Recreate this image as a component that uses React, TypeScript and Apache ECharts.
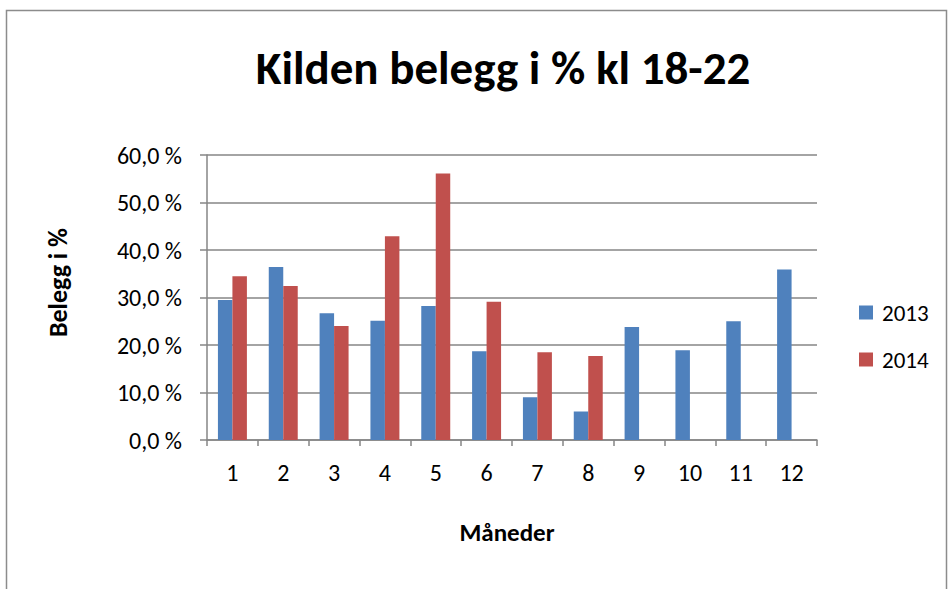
import React, { useEffect, useRef } from "react";
import * as echarts from "echarts";

const months = ["1", "2", "3", "4", "5", "6", "7", "8", "9", "10", "11", "12"];
const values2013 = [29.5, 36.4, 26.7, 25.1, 28.2, 18.7, 9.0, 6.0, 23.8, 18.9, 25.0, 35.9];
const values2014: (number | null)[] = [34.5, 32.4, 24.0, 42.9, 56.1, 29.1, 18.5, 17.7, null, null, null, null];
const yTicks = { min: 0, max: 60, interval: 10 };

const FONT = "Carlito, 'Open Sans', 'Noto Sans', sans-serif";

export default function App() {
  const ref = useRef<HTMLDivElement>(null);
  useEffect(() => {
    document.body.style.margin = "0";
    if (!ref.current) return;
    const chart = echarts.init(ref.current, null, { renderer: "svg" });
    chart.setOption({
      animation: false,
      backgroundColor: "#ffffff",
      title: {
        text: "Kilden belegg i % kl 18-22",
        left: 498,
        textAlign: "center",
        top: 39,
        textStyle: { fontFamily: FONT, fontWeight: "bold", fontSize: 47, color: "#000" },
      },
      graphic: [
        {
          type: "rect",
          shape: { x: 6.5, y: 10.5, width: 940, height: 600 },
          style: { fill: "none", stroke: "#8c8c8c", lineWidth: 1.5 },
          silent: true,
        },
      ],
      legend: {
        orient: "vertical",
        left: 854,
        top: 296,
        itemWidth: 14,
        itemHeight: 14,
        itemGap: 24,
        icon: "rect",
        textStyle: { fontFamily: FONT, fontSize: 23, color: "#000", padding: [0, 0, 0, 4] },
        data: ["2013", "2014"],
      },
      grid: { left: 207, right: 132, top: 155, bottom: 149, containLabel: false },
      xAxis: {
        type: "category",
        data: months,
        name: "Måneder",
        nameLocation: "middle",
        nameGap: 80,
        nameTextStyle: { fontFamily: FONT, fontWeight: "bold", fontSize: 25, color: "#000", padding: [0, 10, 0, 0] },
        axisLine: { lineStyle: { color: "#868686", width: 1.5 } },
        axisTick: { show: true, length: 6, lineStyle: { color: "#868686", width: 1.5 } },
        axisLabel: { fontFamily: FONT, fontSize: 24, color: "#000", margin: 20 },
      },
      yAxis: {
        type: "value",
        min: yTicks.min,
        max: yTicks.max,
        interval: yTicks.interval,
        name: "Belegg i %",
        nameLocation: "middle",
        nameGap: 136,
        nameRotate: 90,
        nameTextStyle: { fontFamily: FONT, fontWeight: "bold", fontSize: 26, color: "#000", padding: [0, 0, 0, 30] },
        axisLine: { show: true, lineStyle: { color: "#868686", width: 1.5 } },
        axisTick: { show: true, length: 7, lineStyle: { color: "#868686", width: 1.5 } },
        axisLabel: {
          fontFamily: FONT,
          fontSize: 24,
          color: "#000",
          margin: 25,
          formatter: (v: number) => v.toFixed(1).replace(".", ",") + " %",
        },
        splitLine: { lineStyle: { color: "#868686", width: 1.5 } },
      },
      series: [
        {
          name: "2013",
          type: "bar",
          data: values2013,
          barGap: "0%",
          barCategoryGap: "43%",
          itemStyle: { color: "#4F81BD" },
        },
        {
          name: "2014",
          type: "bar",
          data: values2014,
          itemStyle: { color: "#C0504D" },
        },
      ],
    });
    return () => chart.dispose();
  }, []);
  return <div ref={ref} style={{ width: 949, height: 589 }} />;
}
